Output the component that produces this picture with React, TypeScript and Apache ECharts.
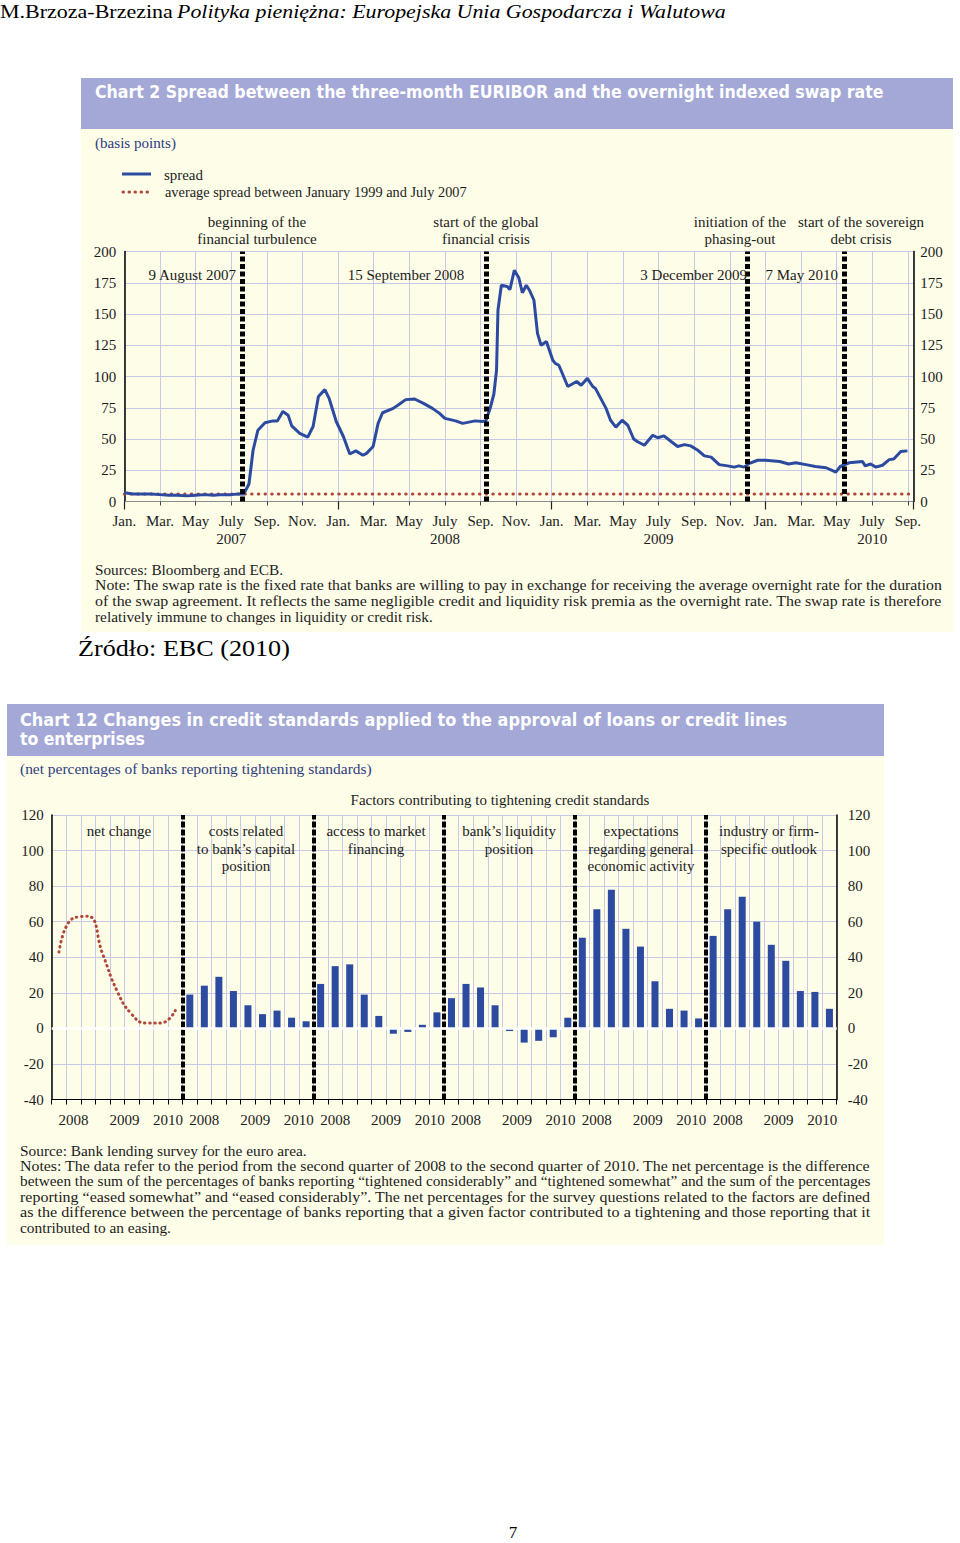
import React, { useEffect, useRef } from 'react';
import * as echarts from 'echarts';

// ---------------- Chart 2 (page top): EURIBOR-OIS spread ----------------
// x = months since January 2007, y = basis points
const spreadPoints: [number, number][] = [
  [0, 7], [0.5, 6], [1, 6], [1.5, 6], [2, 5.5], [2.5, 5], [3, 5], [3.5, 4.5], [4, 5], [4.5, 5.5],
  [5, 5], [5.5, 5.5], [6, 5.5], [6.4, 6], [6.7, 6], [7.0, 14], [7.23, 41], [7.5, 57], [7.9, 63],
  [8.35, 64.5], [8.6, 64.5], [8.9, 72], [9.2, 69], [9.4, 60.5], [9.85, 54.5], [10.3, 51.5], [10.6, 60],
  [10.9, 84], [11.26, 89.5], [11.5, 82.5], [11.9, 64], [12.3, 52], [12.66, 38], [13.0, 40.5], [13.4, 37],
  [13.6, 38.5], [13.97, 44], [14.25, 62.5], [14.5, 71], [15.1, 74.5], [15.46, 78], [15.8, 81.5], [16.3, 82],
  [16.8, 78.5], [17.3, 74.5], [17.7, 70.5], [18.0, 66.5], [18.6, 64.5], [19.0, 62.5], [19.7, 64.5], [20.1, 64],
  [20.3, 64.5], [20.55, 75], [20.75, 86], [20.9, 105], [20.98, 153], [21.17, 173], [21.5, 172], [21.65, 169.5],
  [21.9, 185], [22.15, 179], [22.35, 167], [22.57, 173], [22.75, 169], [23.0, 161], [23.2, 134.5], [23.4, 125],
  [23.7, 128], [24.06, 113], [24.2, 110.5], [24.4, 109], [24.9, 92], [25.4, 96], [25.65, 93], [26.0, 98.5],
  [26.3, 92], [26.45, 90.5], [27.05, 74.5], [27.3, 65], [27.6, 59.5], [27.95, 65], [28.27, 61], [28.6, 50],
  [28.8, 48], [29.2, 45], [29.67, 53], [29.95, 51], [30.3, 52.5], [30.7, 48], [31.07, 44], [31.45, 45.5],
  [31.8, 44.5], [32.2, 41], [32.57, 36.5], [32.95, 35.5], [33.4, 29.5], [33.88, 28.5], [34.25, 27.5], [34.5, 28.5],
  [34.8, 27.5], [35.1, 30.5], [35.56, 33], [36.0, 33], [36.8, 32], [37.3, 30], [37.7, 31], [38.27, 29.5],
  [38.8, 28], [39.4, 27], [39.8, 24.5], [39.95, 23.5], [40.2, 28], [40.7, 31], [41.45, 32], [41.6, 28.5],
  [41.9, 30], [42.2, 27.5], [42.57, 29], [42.95, 33.5], [43.2, 34], [43.6, 40], [43.97, 40.5],
];
const averageSpread = 6;
const eventMonths = [6.65, 20.3, 34.95, 40.4];
const eventTitles = [
  ['beginning of the', 'financial turbulence'],
  ['start of the global', 'financial crisis'],
  ['initiation of the', 'phasing-out'],
  ['start of the sovereign', 'debt crisis'],
];
const eventDates = ['9 August 2007', '15 September 2008', '3 December 2009', '7 May 2010'];
const monthTickLabels = ['Jan.', 'Mar.', 'May', 'July', 'Sep.', 'Nov.'];
const firstYear = 2007;
const spreadAxisMax = 44.3;

// ---------------- Chart 12: credit standards ----------------
const quarters = ['2008 Q2', '2008 Q3', '2008 Q4', '2009 Q1', '2009 Q2', '2009 Q3', '2009 Q4', '2010 Q1', '2010 Q2'];
const yearTickLabels = ['2008', '2009', '2010'];
const panelNames = ['net change', 'capital position', 'market financing', 'liquidity position', 'economic activity', 'firm outlook'];
const netChange = [43, 62, 63, 42, 21, 8, 3, 3, 10];
const capitalPosition = [19, 24, 29, 21, 13, 8, 10, 6, 4];
const marketFinancing = [25, 35, 36, 19, 7, -3, -2, 2, 9];
const liquidityPosition = [17, 25, 23, 13, -1.5, -8, -7, -5, 6];
const economicActivity = [51, 67, 78, 56, 46, 26.5, 11, 10, 5.6];
const industryOutlook = [52, 67, 74, 60, 47, 38, 21, 20.5, 11];

const SERIF = '"Liberation Serif", "Times New Roman", serif';
const TITLE_FAMILY = '"DejaVu Sans Condensed", "DejaVu Sans", sans-serif';
const PURPLE = '#a3a8d6';
const CREAM = '#fefde8';
const GRID = '#c6c9e7';
const BLUE = '#2b4aa0';
const RED = '#b0473a';
const TEXT = '#1c1c1c';
const NAVY = '#2d3c80';

let measureCtx: CanvasRenderingContext2D | null = null;
function textWidth(text: string, font: string) {
  if (!measureCtx) measureCtx = document.createElement('canvas').getContext('2d');
  if (!measureCtx) return 1;
  measureCtx.font = font;
  return measureCtx.measureText(text).width || 1;
}

function label(
  text: string, x: number, y: number, font: string,
  opts: { w?: number; fill?: string; align?: 'left' | 'center' | 'right' } = {}
) {
  const s = opts.w ? opts.w / textWidth(text, font) : 1;
  return {
    type: 'text', x, y, scaleX: s, z: 50, silent: true,
    style: { text, font, fill: opts.fill || TEXT, align: opts.align || 'left', verticalAlign: 'middle' },
  };
}

function monthLabel(v: number) {
  if (Math.abs(v - Math.round(v)) > 1e-6) return '';
  const m = Math.round(v);
  if (m % 2 !== 0) return '';
  const name = monthTickLabels[(m % 12) / 2];
  return m % 12 === 6 ? `${name}\n${firstYear + Math.floor(m / 12)}` : name;
}

function buildOption() {
  const f15 = `15px ${SERIF}`;
  const f14 = `14px ${SERIF}`;
  const graphics: any[] = [];

  // page header
  graphics.push(label('M.Brzoza-Brzezina', 0, 12, `19px ${SERIF}`, { w: 173, fill: '#000' }));
  graphics.push(label('Polityka pieniężna: Europejska Unia Gospodarcza i Walutowa', 177, 12, `italic 19px ${SERIF}`, { w: 549, fill: '#000' }));

  // chart 1 frame
  graphics.push({ type: 'rect', z: -10, silent: true, shape: { x: 81, y: 78, width: 872, height: 51 }, style: { fill: PURPLE } });
  graphics.push({ type: 'rect', z: -10, silent: true, shape: { x: 81, y: 129, width: 872, height: 503 }, style: { fill: CREAM } });
  graphics.push(label('Chart 2 Spread between the three-month EURIBOR and the overnight indexed swap rate', 95, 92,
    `bold 18px ${TITLE_FAMILY}`, { w: 789, fill: '#ffffff' }));
  graphics.push(label('(basis points)', 95, 143, f15, { w: 81, fill: NAVY }));
  // legend
  graphics.push({ type: 'line', z: 50, silent: true, shape: { x1: 122, y1: 174, x2: 151, y2: 174 }, style: { stroke: BLUE, lineWidth: 3 } });
  graphics.push({ type: 'line', z: 50, silent: true, shape: { x1: 123, y1: 192, x2: 151, y2: 192 }, style: { stroke: RED, lineWidth: 3, lineDash: [0.5, 5.5], lineCap: 'round' } });
  graphics.push(label('spread', 164, 175, f14, { w: 39 }));
  graphics.push(label('average spread between January 1999 and July 2007', 165, 192, f14, { w: 302 }));
  // event annotations
  const titleCenters = [257, 486, 740, 861];
  eventTitles.forEach((lines, i) => {
    lines.forEach((t, j) => graphics.push(label(t, titleCenters[i], 222 + j * 17, f15, { align: 'center' })));
  });
  graphics.push(label(eventDates[0], 236, 275, f15, { align: 'right' }));
  graphics.push(label(eventDates[1], 406, 275, f15, { align: 'center' }));
  graphics.push(label(eventDates[2], 747, 275, f15, { align: 'right' }));
  graphics.push(label(eventDates[3], 838, 275, f15, { align: 'right' }));
  // notes
  graphics.push(label('Sources: Bloomberg and ECB.', 95, 570, f14, { w: 188 }));
  graphics.push(label('Note: The swap rate is the fixed rate that banks are willing to pay in exchange for receiving the average overnight rate for the duration', 95, 585.5, f14, { w: 848 }));
  graphics.push(label('of the swap agreement. It reflects the same negligible credit and liquidity risk premia as the overnight rate. The swap rate is therefore', 95, 601, f14, { w: 848 }));
  graphics.push(label('relatively immune to changes in liquidity or credit risk.', 95, 617, f14, { w: 338 }));
  graphics.push(label('Źródło: EBC (2010)', 78, 648, `24px ${SERIF}`, { w: 212, fill: '#000' }));

  // chart 12 frame
  graphics.push({ type: 'rect', z: -10, silent: true, shape: { x: 7, y: 704, width: 877, height: 52 }, style: { fill: PURPLE } });
  graphics.push({ type: 'rect', z: -10, silent: true, shape: { x: 7, y: 756, width: 877, height: 489 }, style: { fill: CREAM } });
  graphics.push(label('Chart 12 Changes in credit standards applied to the approval of loans or credit lines', 20, 719,
    `bold 18px ${TITLE_FAMILY}`, { w: 768, fill: '#ffffff' }));
  graphics.push(label('to enterprises', 20, 739, `bold 18px ${TITLE_FAMILY}`, { w: 125, fill: '#ffffff' }));
  graphics.push(label('(net percentages of banks reporting tightening standards)', 20, 769, f14, { w: 352, fill: NAVY }));
  graphics.push(label('Factors contributing to tightening credit standards', 500, 800, f14, { w: 299, align: 'center' }));
  const panelLabels: [string[], number][] = [
    [['net change'], 119],
    [['costs related', 'to bank’s capital', 'position'], 246],
    [['access to market', 'financing'], 376],
    [['bank’s liquidity', 'position'], 509],
    [['expectations', 'regarding general', 'economic activity'], 641],
    [['industry or firm-', 'specific outlook'], 769],
  ];
  panelLabels.forEach(([lines, cx]) => {
    lines.forEach((t, j) => graphics.push(label(t, cx, 831 + j * 17.5, f15, { align: 'center' })));
  });
  const notes2 = [
    'Notes: The data refer to the period from the second quarter of 2008 to the second quarter of 2010. The net percentage is the difference',
    'between the sum of the percentages of banks reporting “tightened considerably” and “tightened somewhat” and the sum of the percentages',
    'reporting “eased somewhat” and “eased considerably”. The net percentages for the survey questions related to the factors are defined',
    'as the difference between the percentage of banks reporting that a given factor contributed to a tightening and those reporting that it',
  ];
  graphics.push(label('Source: Bank lending survey for the euro area.', 20, 1151, f14, { w: 287 }));
  notes2.forEach((t, i) => graphics.push(label(t, 20, 1166 + i * 15.5, f14, { w: 851 })));
  graphics.push(label('contributed to an easing.', 20, 1228, f14, { w: 151 }));

  graphics.push(label('7', 513, 1532, `17px ${SERIF}`, { align: 'center', fill: '#000' }));

  // category data for chart 12
  const slotNames: string[] = [];
  panelNames.forEach((p) => quarters.forEach((q) => slotNames.push(`${p}: ${q}`)));
  const perPanelYear: string[] = new Array(2 * quarters.length).fill('');
  yearTickLabels.forEach((yr) => {
    const idx = quarters.map((q, i) => (q.startsWith(yr) ? i : -1)).filter((i) => i >= 0);
    perPanelYear[idx[0] + idx[idx.length - 1] + 1] = yr;
  });
  const halfSlots: string[] = [];
  panelNames.forEach(() => halfSlots.push(...perPanelYear));
  halfSlots.push('');
  const separators = panelNames.slice(1).map((_, i) => ({ xAxis: (i + 1) * 2 * quarters.length }));

  const blanks = netChange.map(() => null);
  const barData = [...blanks, ...capitalPosition, ...marketFinancing, ...liquidityPosition, ...economicActivity, ...industryOutlook];
  const lineData = [...netChange, ...capitalPosition.map(() => null), ...marketFinancing.map(() => null),
    ...liquidityPosition.map(() => null), ...economicActivity.map(() => null), ...industryOutlook.map(() => null)];

  const axisText = { fontFamily: SERIF, fontSize: 15, color: TEXT };

  return {
    animation: false,
    graphic: graphics,
    grid: [
      { left: 124.3, top: 251.5, width: 789, height: 250 },
      { left: 51.7, top: 815, width: 785, height: 284.5 },
    ],
    xAxis: [
      {
        type: 'value', gridIndex: 0, position: 'bottom', min: 0, max: spreadAxisMax, interval: 2,
        axisLine: { show: true, onZero: false, lineStyle: { color: '#8c8c8c', width: 1 } },
        axisTick: { show: true, length: 4, lineStyle: { color: '#444' } },
        axisLabel: { ...axisText, formatter: monthLabel, margin: 10, lineHeight: 18 },
        splitLine: { show: true, lineStyle: { color: GRID, width: 1 } },
      },
      {
        type: 'value', gridIndex: 0, position: 'bottom', min: 0, max: spreadAxisMax, interval: 12,
        axisLine: { show: false, onZero: false }, axisTick: { show: true, length: 8, lineStyle: { color: '#222', width: 1.2 } },
        axisLabel: { show: false }, splitLine: { show: false },
      },
      {
        type: 'category', gridIndex: 1, position: 'bottom', data: slotNames, boundaryGap: true,
        axisLine: { show: true, onZero: false, lineStyle: { color: '#000', width: 1.2 } },
        axisTick: { show: true, interval: 0, length: 5, lineStyle: { color: '#000' } },
        axisLabel: { show: false },
        splitLine: { show: true, interval: 0, lineStyle: { color: GRID, width: 1 } },
      },
      {
        type: 'category', gridIndex: 1, position: 'bottom', data: halfSlots, boundaryGap: false,
        axisLine: { show: false, onZero: false }, axisTick: { show: false },
        axisLabel: { ...axisText, interval: 0, margin: 13 }, splitLine: { show: false },
      },
    ],
    yAxis: [
      {
        type: 'value', gridIndex: 0, position: 'left', min: 0, max: 200, interval: 25,
        axisLine: { show: true, onZero: false, lineStyle: { color: '#000', width: 1.5 } }, axisTick: { show: false },
        axisLabel: { ...axisText, margin: 8 }, splitLine: { show: true, lineStyle: { color: GRID, width: 1 } },
      },
      {
        type: 'value', gridIndex: 0, position: 'right', min: 0, max: 200, interval: 25,
        axisLine: { show: true, onZero: false, lineStyle: { color: '#000', width: 1.5 } }, axisTick: { show: false },
        axisLabel: { ...axisText, margin: 7 }, splitLine: { show: false },
      },
      {
        type: 'value', gridIndex: 1, position: 'left', min: -40, max: 120, interval: 20,
        axisLine: { show: true, onZero: false, lineStyle: { color: '#000', width: 1.5 } }, axisTick: { show: false },
        axisLabel: { ...axisText, margin: 8 }, splitLine: { show: true, lineStyle: { color: GRID, width: 1 } },
      },
      {
        type: 'value', gridIndex: 1, position: 'right', min: -40, max: 120, interval: 20,
        axisLine: { show: true, onZero: false, lineStyle: { color: '#000', width: 1.5 } }, axisTick: { show: false },
        axisLabel: { ...axisText, margin: 11 }, splitLine: { show: false },
      },
    ],
    series: [
      {
        name: 'average spread between January 1999 and July 2007', type: 'line', xAxisIndex: 0, yAxisIndex: 0,
        data: [[0, averageSpread], [spreadAxisMax, averageSpread]], symbol: 'none', silent: true, z: 2,
        lineStyle: { color: RED, width: 3, type: [0.5, 6.2], cap: 'round' },
      },
      {
        name: 'spread', type: 'line', xAxisIndex: 0, yAxisIndex: 0, data: spreadPoints, symbol: 'none', silent: true, z: 3,
        lineStyle: { color: BLUE, width: 3 },
        markLine: {
          silent: true, symbol: ['none', 'none'], label: { show: false },
          lineStyle: { color: '#000', width: 5, type: [5, 2.5] },
          data: eventMonths.map((m) => ({ xAxis: m })),
        },
      },
      {
        name: 'factors', type: 'bar', xAxisIndex: 2, yAxisIndex: 2, data: barData, barWidth: 7, silent: true, z: 3,
        itemStyle: { color: BLUE },
      },
      {
        name: 'net change', type: 'line', xAxisIndex: 2, yAxisIndex: 2, data: lineData, smooth: 0.5, symbol: 'none',
        silent: true, z: 3, lineStyle: { color: RED, width: 3, type: [0.5, 4.6], cap: 'round' },
      },
      {
        name: 'separators', type: 'line', xAxisIndex: 3, yAxisIndex: 2, data: [], silent: true, z: 2,
        markLine: {
          silent: true, symbol: ['none', 'none'], label: { show: false },
          lineStyle: { color: '#000', width: 4, type: [6, 2] },
          data: [
            ...separators,
            { yAxis: 0, lineStyle: { color: '#ffffff', width: 2.5, type: 'solid' } },
          ],
        },
      },
    ],
  };
}

export default function App() {
  const ref = useRef<HTMLDivElement>(null);
  useEffect(() => {
    if (!ref.current) return;
    const chart = echarts.init(ref.current, null, { renderer: 'svg' });
    chart.setOption(buildOption() as any);
    return () => chart.dispose();
  }, []);
  return (
    <div
      ref={ref}
      style={{ position: 'absolute', left: 0, top: 0, width: 960, height: 1543, background: '#ffffff' }}
    />
  );
}
